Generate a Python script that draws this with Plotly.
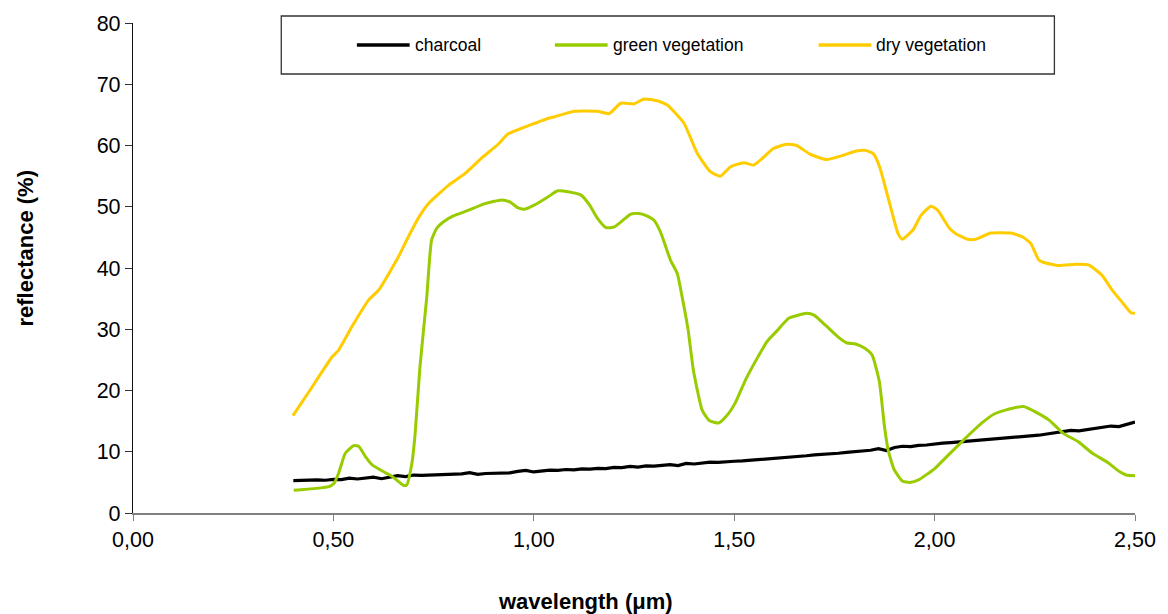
import plotly.graph_objects as go

# Spectral reflectance curves (wavelength in µm, reflectance in %)
series_names = ["charcoal", "green vegetation", "dry vegetation"]
series_colors = ["#000000", "#99CC00", "#FFCC00"]

charcoal_wl = [
    0.40, 0.42, 0.44, 0.46, 0.48, 0.50, 0.52, 0.54, 0.56, 0.58,
    0.60, 0.62, 0.64, 0.66, 0.68, 0.70, 0.72, 0.74, 0.76, 0.78,
    0.80, 0.82, 0.84, 0.86, 0.88, 0.90, 0.92, 0.94, 0.96, 0.98,
    1.00, 1.02, 1.04, 1.06, 1.08, 1.10, 1.12, 1.14, 1.16, 1.18,
    1.20, 1.22, 1.24, 1.26, 1.28, 1.30, 1.32, 1.34, 1.36, 1.38,
    1.40, 1.42, 1.44, 1.46, 1.48, 1.50, 1.52, 1.54, 1.56, 1.58,
    1.60, 1.62, 1.64, 1.66, 1.68, 1.70, 1.72, 1.74, 1.76, 1.78,
    1.80, 1.82, 1.84, 1.86, 1.88, 1.90, 1.92, 1.94, 1.96, 1.98,
    2.00, 2.02, 2.04, 2.06, 2.08, 2.10, 2.12, 2.14, 2.16, 2.18,
    2.20, 2.22, 2.24, 2.26, 2.28, 2.30, 2.32, 2.34, 2.36, 2.38,
    2.40, 2.42, 2.44, 2.46, 2.48, 2.50,
]
charcoal_refl = [
    5.30, 5.35, 5.30, 5.40, 5.35, 5.50, 5.45, 5.70, 5.55, 5.75,
    5.85, 5.60, 5.90, 6.10, 5.95, 6.20, 6.15, 6.20, 6.25, 6.30,
    6.25, 6.40, 6.60, 6.30, 6.45, 6.50, 6.60, 6.55, 6.80, 6.95,
    6.70, 6.90, 7.00, 6.95, 7.10, 7.05, 7.20, 7.15, 7.30, 7.25,
    7.45, 7.40, 7.60, 7.50, 7.70, 7.65, 7.80, 7.90, 7.75, 8.10,
    8.00, 8.15, 8.30, 8.25, 8.40, 8.45, 8.50, 8.60, 8.70, 8.80,
    8.85, 9.00, 9.10, 9.20, 9.35, 9.50, 9.55, 9.70, 9.75, 9.90,
    10.00, 10.10, 10.25, 10.50, 10.20, 10.70, 10.90, 10.85, 11.05, 11.10,
    11.30, 11.40, 11.50, 11.60, 11.75, 11.85, 12.00, 12.10, 12.20, 12.30,
    12.35, 12.50, 12.55, 12.70, 12.90, 13.10, 13.20, 13.50, 13.40, 13.60,
    13.90, 14.00, 14.20, 14.10, 14.50, 14.85,
]

green_wl = [
    0.401, 0.489, 0.501, 0.513, 0.530, 0.551, 0.563, 0.580, 0.596, 0.629,
    0.646, 0.675, 0.683, 0.696, 0.704, 0.716, 0.733, 0.745, 0.758, 0.774,
    0.799, 0.836, 0.878, 0.919, 0.940, 0.961, 0.977, 1.002, 1.035, 1.060,
    1.089, 1.118, 1.139, 1.159, 1.180, 1.201, 1.217, 1.242, 1.263, 1.279,
    1.300, 1.316, 1.341, 1.358, 1.370, 1.385, 1.398, 1.420, 1.438, 1.461,
    1.479, 1.502, 1.528, 1.555, 1.582, 1.609, 1.636, 1.682, 1.699, 1.727,
    1.758, 1.780, 1.803, 1.826, 1.844, 1.862, 1.875, 1.884, 1.899, 1.920,
    1.938, 1.960, 2.001, 2.024, 2.069, 2.118, 2.150, 2.177, 2.222, 2.249,
    2.285, 2.321, 2.357, 2.393, 2.433, 2.460, 2.478, 2.500,
]
green_refl = [
    3.7, 4.3, 4.8, 6.5, 9.8, 11.0, 10.9, 9.2, 7.9, 6.6,
    6.0, 4.5, 4.6, 8.2, 13.0, 23.9, 35.3, 44.6, 46.5, 47.5,
    48.5, 49.4, 50.5, 51.1, 50.8, 49.8, 49.6, 50.3, 51.6, 52.6,
    52.4, 51.9, 50.3, 48.1, 46.6, 46.7, 47.5, 48.8, 48.9, 48.6,
    47.8, 45.9, 41.3, 39.1, 35.3, 29.9, 23.4, 16.8, 15.1, 14.7,
    15.7, 17.9, 21.7, 25.0, 28.0, 29.9, 31.8, 32.6, 32.3, 30.7,
    28.8, 27.8, 27.6, 26.9, 25.8, 21.5, 14.1, 10.3, 7.1, 5.2,
    5.0, 5.4, 7.3, 8.8, 11.7, 14.7, 16.2, 16.8, 17.4, 16.6,
    15.2, 13.0, 11.7, 9.8, 8.2, 6.8, 6.2, 6.1,
]

dry_wl = [
    0.399, 0.439, 0.497, 0.513, 0.546, 0.588, 0.613, 0.662, 0.687, 0.716,
    0.737, 0.787, 0.828, 0.869, 0.911, 0.936, 0.977, 1.010, 1.035, 1.052,
    1.101, 1.159, 1.188, 1.217, 1.250, 1.275, 1.308, 1.333, 1.375, 1.408,
    1.441, 1.466, 1.490, 1.524, 1.548, 1.565, 1.598, 1.631, 1.656, 1.689,
    1.730, 1.772, 1.805, 1.828, 1.848, 1.863, 1.888, 1.909, 1.919, 1.946,
    1.966, 1.991, 2.008, 2.037, 2.053, 2.082, 2.103, 2.140, 2.190, 2.219,
    2.240, 2.260, 2.273, 2.310, 2.352, 2.384, 2.418, 2.443, 2.467, 2.490,
    2.500,
]
dry_refl = [
    15.9, 19.8, 25.5, 26.6, 30.4, 34.8, 36.4, 41.8, 45.1, 48.6,
    50.5, 53.5, 55.4, 57.9, 60.2, 61.9, 63.0, 63.8, 64.4, 64.7,
    65.6, 65.6, 65.2, 66.9, 66.8, 67.6, 67.3, 66.6, 63.6, 58.7,
    55.7, 55.0, 56.5, 57.2, 56.8, 57.6, 59.5, 60.2, 60.0, 58.6,
    57.7, 58.4, 59.1, 59.2, 58.6, 56.5, 50.5, 45.6, 44.7, 46.2,
    48.6, 50.1, 49.4, 46.5, 45.6, 44.7, 44.7, 45.7, 45.7, 45.1,
    44.0, 41.3, 40.9, 40.4, 40.6, 40.5, 38.8, 36.4, 34.5, 32.7,
    32.6,
]

x_tick_vals = [0.0, 0.5, 1.0, 1.5, 2.0, 2.5]
x_tick_text = ["0,00", "0,50", "1,00", "1,50", "2,00", "2,50"]
y_tick_vals = [0, 10, 20, 30, 40, 50, 60, 70, 80]

FONT = "Liberation Sans, Arial, sans-serif"
W, H = 1168, 614
M_L, M_R, M_T, M_B = 133, 28, 23, 101

fig = go.Figure()
fig.add_trace(go.Scatter(x=charcoal_wl, y=charcoal_refl, mode="lines",
                         name=series_names[0],
                         line=dict(color=series_colors[0], width=3.2)))
fig.add_trace(go.Scatter(x=green_wl, y=green_refl, mode="lines",
                         name=series_names[1],
                         line=dict(color=series_colors[1], width=3, shape="spline", smoothing=0.5)))
fig.add_trace(go.Scatter(x=dry_wl, y=dry_refl, mode="lines",
                         name=series_names[2],
                         line=dict(color=series_colors[2], width=3, shape="spline", smoothing=0.5)))


def px_x(px):
    """Pixel column -> paper x."""
    return (px - M_L) / (W - M_L - M_R)


def px_y(py):
    """Pixel row -> paper y."""
    return (H - M_B - py) / (H - M_T - M_B)


# Boxed legend across the top of the plot
shapes = [dict(type="rect", xref="paper", yref="paper",
               x0=px_x(282), x1=px_x(1059), y0=px_y(74), y1=px_y(16),
               line=dict(color="#333333", width=1.3), fillcolor="white", layer="above")]
annotations = []
legend_starts = [358, 557, 822]
for name, color, start in zip(series_names, series_colors, legend_starts):
    shapes.append(dict(type="line", xref="paper", yref="paper",
                       x0=px_x(start), x1=px_x(start + 53), y0=px_y(45), y1=px_y(45),
                       line=dict(color=color, width=3.5), layer="above"))
    annotations.append(dict(xref="paper", yref="paper", x=px_x(start + 56), y=px_y(45),
                            text=name, showarrow=False, xanchor="left", yanchor="middle",
                            font=dict(family=FONT, size=17.5, color="black")))

# Axis titles
annotations.append(dict(xref="paper", yref="paper", x=px_x(588), y=px_y(601),
                        text="<b>wavelength (μm)</b>", showarrow=False,
                        xanchor="center", yanchor="middle",
                        font=dict(family=FONT, size=22, color="black")))
annotations.append(dict(xref="paper", yref="paper", x=px_x(25), y=px_y(248),
                        text="<b>reflectance (%)</b>", showarrow=False, textangle=-90,
                        xanchor="center", yanchor="middle",
                        font=dict(family=FONT, size=22, color="black")))

fig.update_layout(
    width=W, height=H,
    margin=dict(l=M_L, r=M_R, t=M_T, b=M_B, pad=0),
    paper_bgcolor="white", plot_bgcolor="white",
    showlegend=False,
    font=dict(family=FONT, size=21, color="black"),
    shapes=shapes, annotations=annotations,
    xaxis=dict(range=[0, 2.5], tickvals=x_tick_vals, ticktext=x_tick_text,
               showgrid=False, zeroline=False, showline=True,
               linecolor="#808080", linewidth=1.5,
               ticks="outside", ticklen=6, tickwidth=1.3, tickcolor="#808080",
               tickfont=dict(family=FONT, size=21.5, color="black")),
    yaxis=dict(range=[0, 80], tickvals=y_tick_vals,
               showgrid=False, zeroline=False, showline=True,
               linecolor="#111111", linewidth=1.3,
               ticks="outside", ticklen=7, tickwidth=1.3, tickcolor="#333333",
               tickfont=dict(family=FONT, size=21.5, color="black")),
)

fig.write_html("out.html")
